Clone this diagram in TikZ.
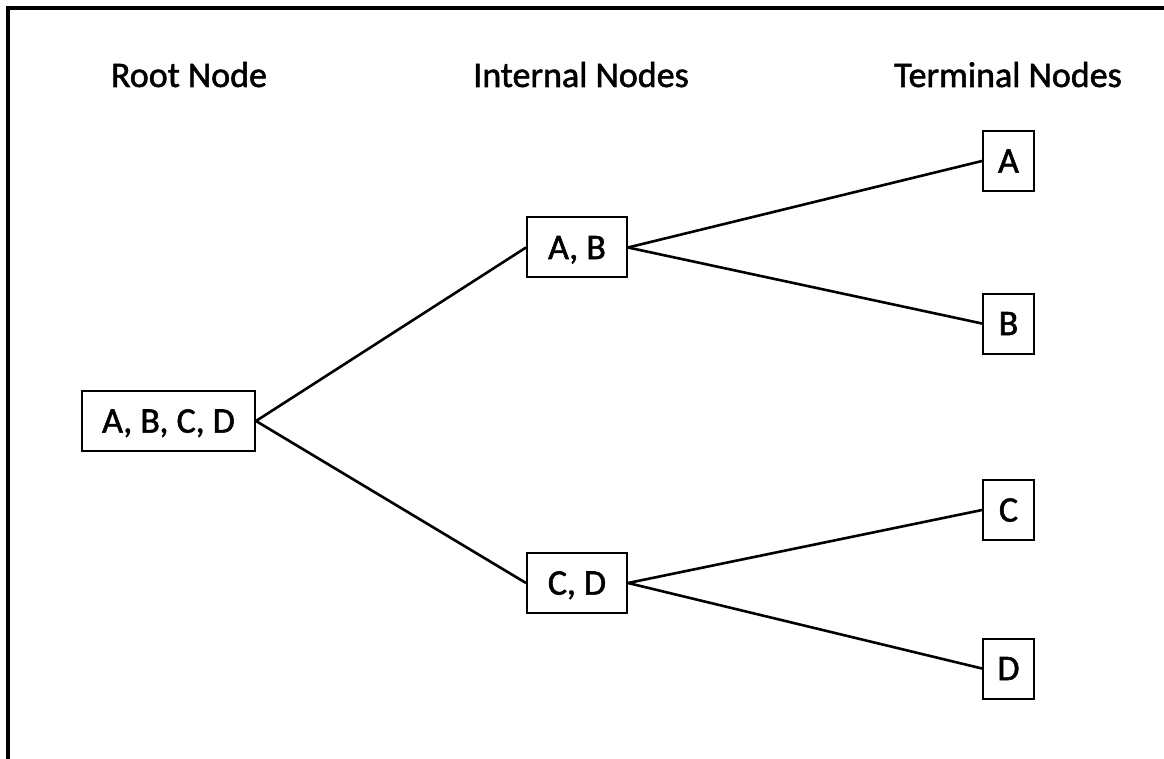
\documentclass[tikz,border=0pt]{standalone}
\usepackage{fontspec}
\setmainfont{Carlito}[FakeBold=1.5, BoldFont=Carlito]
\begin{document}
\begin{tikzpicture}[x=1pt,y=-1pt,
  lbl/.style={font=\fontsize{36}{40}\selectfont\bfseries, inner sep=0pt, anchor=base},
  box/.style={draw, line width=2pt, font=\fontsize{36}{40}\selectfont\bfseries, inner sep=0pt,
    text height=23.2pt, text depth=0pt, minimum height=60pt},
  conn/.style={line width=2.6pt}]
\useasboundingbox (0,0) rectangle (1164,759);
\fill[white] (0,0) rectangle (1164,759);
% frame
\coordinate (ftr) at (1164,8);
\coordinate (ftl) at (8,8);
\coordinate (fbl) at (8,759);
\draw[line width=4pt] (ftr) -- (ftl) -- (fbl);
% headers
\node[lbl] (h1) at (189,87) {Root Node};
\node[lbl] (h2) at (581,87) {Internal Nodes};
\node[lbl] (h3) at (1008,87) {Terminal Nodes};
% boxes
\node[box, minimum width=173pt] (root) at (168.5,421) {A, B, C, D};
\node[box, minimum width=100pt] (ab) at (577,247.5) {A, B};
\node[box, minimum width=100pt] (cd) at (577,583) {C, D};
\node[box, minimum width=51pt] (a) at (1008.5,161) {A};
\node[box, minimum width=51pt] (b) at (1008.5,323.5) {B};
\node[box, minimum width=51pt] (c) at (1008.5,510) {C};
\node[box, minimum width=51pt] (d) at (1008.5,668.5) {D};
% connectors
\draw[conn] (root.east) -- (ab.west);
\draw[conn] (root.east) -- (cd.west);
\draw[conn] (ab.east) -- (a.west);
\draw[conn] (ab.east) -- (b.west);
\draw[conn] (cd.east) -- (c.west);
\draw[conn] (cd.east) -- (d.west);
\end{tikzpicture}
\end{document}
